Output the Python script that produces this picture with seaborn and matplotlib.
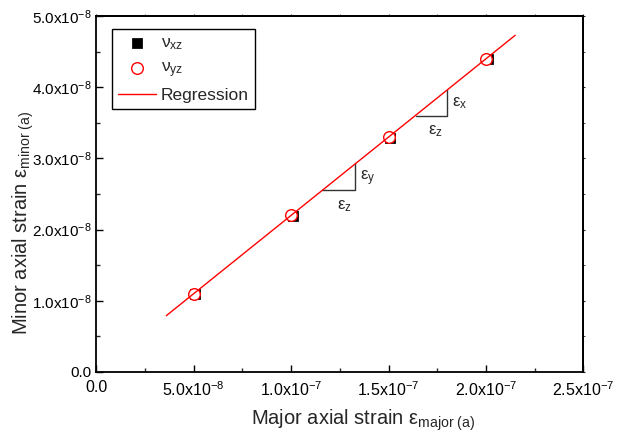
import numpy as np
import matplotlib
matplotlib.use("Agg")
import matplotlib.pyplot as plt
import seaborn as sns
from matplotlib.ticker import AutoMinorLocator, FixedLocator, FixedFormatter

# данные
strain_xz = [5.08e-8, 1.008e-7, 1.508e-7, 2.008e-7]
nu_xz = [1.09e-8, 2.19e-8, 3.29e-8, 4.39e-8]
strain_yz = [5.0e-8, 1.0e-7, 1.5e-7, 2.0e-7]
nu_yz = [1.1e-8, 2.2e-8, 3.3e-8, 4.4e-8]

# регрессионная прямая (концы)
reg_x = [3.6e-8, 2.15e-7]
reg_y = [0.79e-8, 4.73e-8]

# треугольники наклона
tri_yz_x = [1.16e-7, 1.33e-7, 1.33e-7]
tri_yz_y = [2.55e-8, 2.55e-8, 2.93e-8]
tri_xz_x = [1.64e-7, 1.80e-7, 1.80e-7]
tri_xz_y = [3.60e-8, 3.60e-8, 3.96e-8]

x_ticks = [0.0, 5.0e-8, 1.0e-7, 1.5e-7, 2.0e-7, 2.5e-7]
x_labels = ["0.0", "5.0x10$^{-8}$", "1.0x10$^{-7}$", "1.5x10$^{-7}$",
            "2.0x10$^{-7}$", "2.5x10$^{-7}$"]
y_ticks = [0.0, 1.0e-8, 2.0e-8, 3.0e-8, 4.0e-8, 5.0e-8]
y_labels = ["0.0", "1.0x10$^{-8}$", "2.0x10$^{-8}$", "3.0x10$^{-8}$",
            "4.0x10$^{-8}$", "5.0x10$^{-8}$"]

sns.set_style("ticks")
plt.rcParams["font.family"] = ["Liberation Sans", "DejaVu Sans"]
plt.rcParams["mathtext.fontset"] = "custom"
plt.rcParams["mathtext.rm"] = "Liberation Sans"
plt.rcParams["mathtext.it"] = "Liberation Sans"
plt.rcParams["mathtext.bf"] = "Liberation Sans:bold"

fig = plt.figure(figsize=(6.24, 4.34), dpi=100)
ax = fig.add_axes([0.154, 0.143, 0.781, 0.820])

sns.scatterplot(x=strain_xz, y=nu_xz, marker="s", color="black",
                edgecolor="black", s=48, ax=ax, label=r"$\nu_{xz}$", zorder=3)
sns.scatterplot(x=strain_yz, y=nu_yz, marker="o", color="red",
                edgecolor="red", linewidth=1.0, s=70, ax=ax,
                label=r"$\nu_{yz}$", zorder=4)
# кружки с белой заливкой поверх квадратов
ax.collections[-1].set_facecolor("white")
sns.lineplot(x=reg_x, y=reg_y, color="red", linewidth=1.0, ax=ax,
             label="Regression", zorder=5)

for tx, ty in [(tri_yz_x, tri_yz_y), (tri_xz_x, tri_xz_y)]:
    ax.plot(tx, ty, color="#333333", linewidth=1.0, zorder=1)

ax.text(1.355e-7, 2.72e-8, r"$\varepsilon_y$", fontsize=12, ha="left", va="center")
ax.text(1.237e-7, 2.33e-8, r"$\varepsilon_z$", fontsize=12, ha="left", va="center")
ax.text(1.827e-7, 3.78e-8, r"$\varepsilon_x$", fontsize=12, ha="left", va="center")
ax.text(1.704e-7, 3.38e-8, r"$\varepsilon_z$", fontsize=12, ha="left", va="center")

ax.set_xlim(0, 2.5e-7)
ax.set_ylim(0, 5.0e-8)
ax.xaxis.set_major_locator(FixedLocator(x_ticks))
ax.xaxis.set_major_formatter(FixedFormatter(x_labels))
ax.yaxis.set_major_locator(FixedLocator(y_ticks))
ax.yaxis.set_major_formatter(FixedFormatter(y_labels))
ax.xaxis.set_minor_locator(AutoMinorLocator(2))
ax.yaxis.set_minor_locator(AutoMinorLocator(2))
ax.tick_params(which="major", direction="in", length=5, width=1.0,
               labelsize=11, colors="black")
ax.tick_params(axis="x", which="major", pad=6, labelsize=11.5)
ax.tick_params(axis="y", which="major", pad=3)
ax.tick_params(which="minor", direction="in", length=3, width=1.0)

# короткие внешние засечки сверху и справа
secx = ax.secondary_xaxis("top")
secx.xaxis.set_major_locator(FixedLocator(x_ticks))
secx.xaxis.set_minor_locator(AutoMinorLocator(2))
secx.tick_params(which="both", direction="out", length=1.5, labeltop=False)
secy = ax.secondary_yaxis("right")
secy.yaxis.set_major_locator(FixedLocator(y_ticks))
secy.yaxis.set_minor_locator(AutoMinorLocator(2))
secy.tick_params(which="both", direction="out", length=1.5, labelright=False)

for sp in list(ax.spines.values()) + [secx.spines["top"], secy.spines["right"]]:
    sp.set_linewidth(1.3)
    sp.set_color("black")

ax.set_xlabel(r"Major axial strain $\varepsilon_{\mathrm{major\ (a)}}$", fontsize=14.5)
ax.set_ylabel(r"Minor axial strain $\varepsilon_{\mathrm{minor\ (a)}}$", fontsize=14.5)
ax.xaxis.set_label_coords(0.548, -0.1)
ax.yaxis.set_label_coords(-0.123, 0.42)

leg = ax.legend(loc="upper left", bbox_to_anchor=(0.033, 0.963), fontsize=12.5,
                frameon=True, fancybox=False, edgecolor="black", framealpha=1,
                handlelength=2.2, handletextpad=0.25, borderpad=0.35,
                labelspacing=0.45, borderaxespad=0)
leg.get_frame().set_linewidth(1.0)

fig.savefig("out.png", dpi=100)
plt.close(fig)
